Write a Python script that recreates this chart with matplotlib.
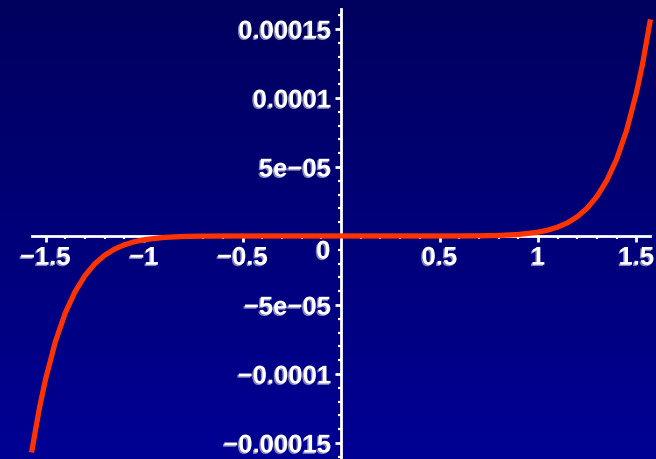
import matplotlib
matplotlib.use('Agg')
import matplotlib.pyplot as plt
import matplotlib.patheffects as pe
from matplotlib.colors import LinearSegmentedColormap
from matplotlib.ticker import FixedLocator, FixedFormatter
import numpy as np

# sampled values of the degree-7 remainder of sin on [0, pi/2] (odd curve)
xs_pos = [0.0, 0.2, 0.4, 0.6, 0.7, 0.8, 0.9, 1.0, 1.05, 1.1, 1.15, 1.2, 1.25,
          1.3, 1.35, 1.4, 1.45, 1.5, 1.53, 1.5708]
ys_pos = [0.0, 0.0, 7.0e-10, 2.78e-8, 1.11e-7, 3.70e-7, 1.07e-6, 2.73e-6, 4.24e-6,
          6.43e-6, 9.57e-6, 1.40e-5, 2.02e-5, 2.88e-5, 4.04e-5, 5.59e-5, 7.66e-5,
          1.04e-4, 1.240e-4, 1.569e-4]

xticks = [-1.5, -1, -0.5, 0.5, 1, 1.5]
xlabels = ['\u22121.5', '\u22121', '\u22120.5', '0.5', '1', '1.5']
yticks = [-1.5e-4, -1e-4, -5e-5, 5e-5, 1e-4, 1.5e-4]
ylabels = ['\u22120.00015', '\u22120.0001', '\u22125e\u221205', '5e\u221205', '0.0001', '0.00015']
xminor = [i / 10 for i in range(-15, 16) if i % 5]
yminor = [i * 1e-5 for i in range(-16, 17) if i % 5]

x = np.concatenate([-np.array(xs_pos[:0:-1]), xs_pos])
y = np.concatenate([-np.array(ys_pos[:0:-1]), ys_pos])

plt.rcParams['font.family'] = ['Liberation Sans', 'DejaVu Sans']
fig = plt.figure(figsize=(6.56, 4.6), dpi=100)
ax = fig.add_axes([0, 0, 1, 1])
xlim = (-1.731, 1.599)
ylim = (-1.616e-4, 1.717e-4)
ax.set_xlim(xlim); ax.set_ylim(ylim)

# blue gradient backdrop, darker at the top
cmap = LinearSegmentedColormap.from_list('bg', ['#000094', '#00005e'])
grad = np.linspace(0, 1, 256).reshape(-1, 1)
ax.imshow(grad, extent=[xlim[0], xlim[1], ylim[0], ylim[1]], aspect='auto',
          cmap=cmap, origin='lower', zorder=0)

ax.plot(x, y, color='#ff3300', lw=3.8, solid_capstyle='butt', zorder=3)

for s in ['top', 'right']:
    ax.spines[s].set_visible(False)
ax.spines['left'].set_position(('data', 0))
ax.spines['bottom'].set_position(('data', 0))
ax.spines['bottom'].set_bounds(-1.5708, 1.5708)
ax.spines['left'].set_bounds(ylim[0], 1.645e-4)
for s in ['left', 'bottom']:
    ax.spines[s].set_color('white')
    ax.spines[s].set_linewidth(2.0)
    ax.spines[s].set_zorder(2)

shadow = [pe.withSimplePatchShadow(offset=(-1, -1), shadow_rgbFace='#9090c0', alpha=0.9)]
ax.xaxis.set_major_locator(FixedLocator(xticks))
ax.xaxis.set_major_formatter(FixedFormatter(xlabels))
ax.yaxis.set_major_locator(FixedLocator(yticks))
ax.yaxis.set_major_formatter(FixedFormatter(ylabels))
ax.xaxis.set_minor_locator(FixedLocator(xminor))
ax.yaxis.set_minor_locator(FixedLocator(yminor))
ax.tick_params(which='major', direction='out', length=4, width=2, color='white',
               labelcolor='white', labelsize=18.5, pad=3)
ax.tick_params(which='minor', direction='out', length=2.5, width=1.6, color='white')
for lab in ax.get_xticklabels() + ax.get_yticklabels():
    lab.set_fontweight('bold')
    lab.set_path_effects(shadow)
ax.text(-0.09, -2.6e-6, '0', color='white', fontsize=18.5, fontweight='bold',
        ha='center', va='top', path_effects=shadow)

fig.savefig('out.png', dpi=100)
